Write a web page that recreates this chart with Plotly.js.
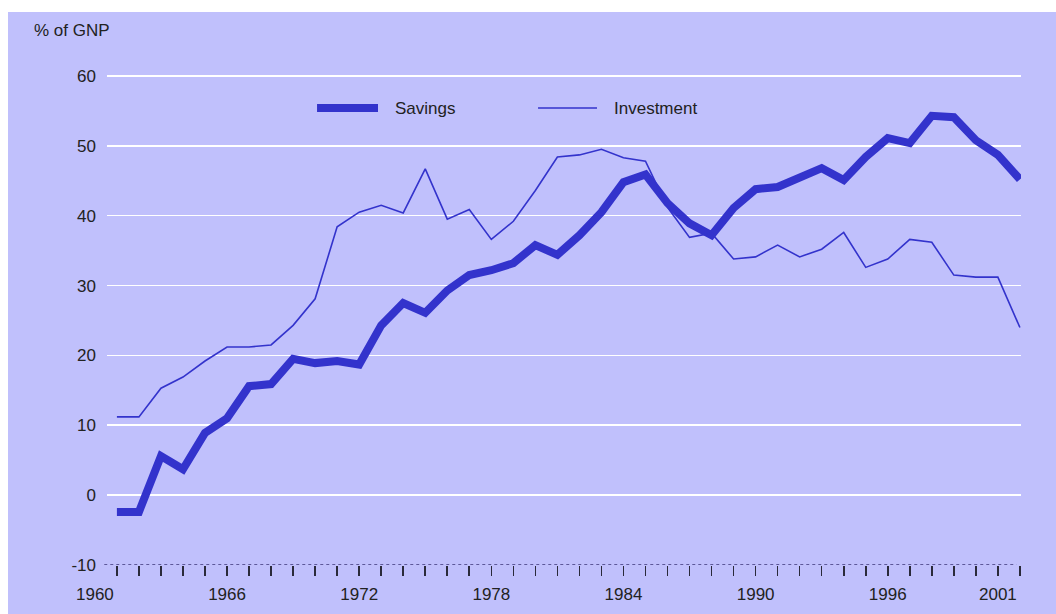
<!DOCTYPE html>
<html>
<head>
<meta charset="utf-8">
<script src="https://cdn.plot.ly/plotly-3.0.1.min.js"></script>
<style>
  html, body { margin: 0; padding: 0; background: #ffffff; width: 1056px; height: 614px; overflow: hidden; }
  #chart { position: absolute; left: 8px; top: 12px; width: 1048px; height: 602px; }
</style>
</head>
<body>
<div id="chart"></div>
<script>
// ---- data ----
var years = [1960, 1961, 1962, 1963, 1964, 1965, 1966, 1967, 1968, 1969,
             1970, 1971, 1972, 1973, 1974, 1975, 1976, 1977, 1978, 1979,
             1980, 1981, 1982, 1983, 1984, 1985, 1986, 1987, 1988, 1989,
             1990, 1991, 1992, 1993, 1994, 1995, 1996, 1997, 1998, 1999,
             2000, 2001];
var savings = [-2.4, -2.4, 5.6, 3.7, 8.9, 11.0, 15.6, 15.9, 19.5, 18.9,
               19.2, 18.7, 24.3, 27.5, 26.1, 29.3, 31.5, 32.2, 33.2, 35.8,
               34.4, 37.2, 40.5, 44.8, 45.9, 41.8, 38.9, 37.2, 41.1, 43.8,
               44.1, 45.5, 46.8, 45.1, 48.4, 51.1, 50.4, 54.3, 54.1, 50.8,
               48.7, 45.2];
var investment = [11.2, 11.2, 15.3, 16.9, 19.2, 21.2, 21.2, 21.5, 24.3, 28.1,
                  38.4, 40.5, 41.5, 40.4, 46.7, 39.5, 40.9, 36.6, 39.2, 43.6,
                  48.4, 48.7, 49.5, 48.3, 47.8, 41.2, 36.9, 37.5, 33.8, 34.1,
                  35.8, 34.1, 35.2, 37.6, 32.6, 33.8, 36.6, 36.2, 31.5, 31.2,
                  31.2, 24.0];
var seriesNames = ['Savings', 'Investment'];
var xTickVals = [1960, 1966, 1972, 1978, 1984, 1990, 1996, 2001];
var xTickText = ['1960', '1966', '1972', '1978', '1984', '1990', '1996', '2001'];
var yTickVals = [-10, 0, 10, 20, 30, 40, 50, 60];
var yTickText = ['-10', '0', '10', '20', '30', '40', '50', '60'];
var yTitle = '% of GNP';

// ---- style ----
var lineColor = '#3333CC';
var bg = '#C0C0FC';
var textColor = '#222222';
var fontFamily = '"Liberation Sans", Arial, sans-serif';

var traces = [
  { x: years, y: savings, name: seriesNames[0], type: 'scatter', mode: 'lines',
    line: { color: lineColor, width: 8 }, hoverinfo: 'x+y' },
  { x: years, y: investment, name: seriesNames[1], type: 'scatter', mode: 'lines',
    line: { color: lineColor, width: 1.6 }, hoverinfo: 'x+y' }
];

var legendY = 0.9085;
var layout = {
  width: 1048, height: 602,
  paper_bgcolor: bg, plot_bgcolor: bg,
  margin: { l: 99, r: 35, t: 50, b: 49 },
  showlegend: false,
  font: { family: fontFamily, size: 17, color: textColor },
  title: { text: yTitle, xref: 'container', yref: 'container', x: 0.0248, xanchor: 'left',
           y: 0.970, yanchor: 'middle', font: { family: fontFamily, size: 17, color: textColor } },
  xaxis: {
    range: [1959.55, 2001.05],
    tickmode: 'array', tickvals: xTickVals, ticktext: xTickText,
    ticks: 'outside', ticklen: 10, tickwidth: 1.6, tickcolor: '#2a2a3a',
    ticklabelshift: -22, ticklabelstandoff: 4,
    minor: { tickmode: 'linear', tick0: 1960, dtick: 1, ticks: 'outside', ticklen: 10, tickwidth: 1.6, tickcolor: '#2a2a3a', showgrid: false },
    showgrid: false, zeroline: false, showline: false,
    tickfont: { family: fontFamily, size: 17, color: textColor }
  },
  yaxis: {
    range: [-10, 62],
    tickmode: 'array', tickvals: yTickVals, ticktext: yTickText,
    ticks: '', ticklabelstandoff: 10,
    showgrid: true, gridcolor: '#FFFFFF', gridwidth: 1.6,
    zeroline: false, showline: false,
    tickfont: { family: fontFamily, size: 17, color: textColor }
  },
  shapes: [
    { type: 'line', xref: 'paper', yref: 'y', x0: -0.003, x1: 0.995, y0: -10, y1: -10,
      line: { color: '#3c3678', width: 1.5, dash: 'dot' } },
    { type: 'line', xref: 'paper', yref: 'paper', x0: 0.2298, x1: 0.2965, y0: legendY, y1: legendY,
      line: { color: lineColor, width: 8 } },
    { type: 'line', xref: 'paper', yref: 'paper', x0: 0.4716, x1: 0.5361, y0: legendY, y1: legendY,
      line: { color: lineColor, width: 1.6 } }
  ],
  annotations: [
    { xref: 'paper', yref: 'paper', x: 0.313, y: legendY, xanchor: 'left', yanchor: 'middle',
      text: seriesNames[0], showarrow: false, font: { family: fontFamily, size: 17, color: textColor } },
    { xref: 'paper', yref: 'paper', x: 0.5525, y: legendY, xanchor: 'left', yanchor: 'middle',
      text: seriesNames[1], showarrow: false, font: { family: fontFamily, size: 17, color: textColor } }
  ]
};

Plotly.newPlot('chart', traces, layout, { displayModeBar: false, staticPlot: true });
</script>
</body>
</html>
